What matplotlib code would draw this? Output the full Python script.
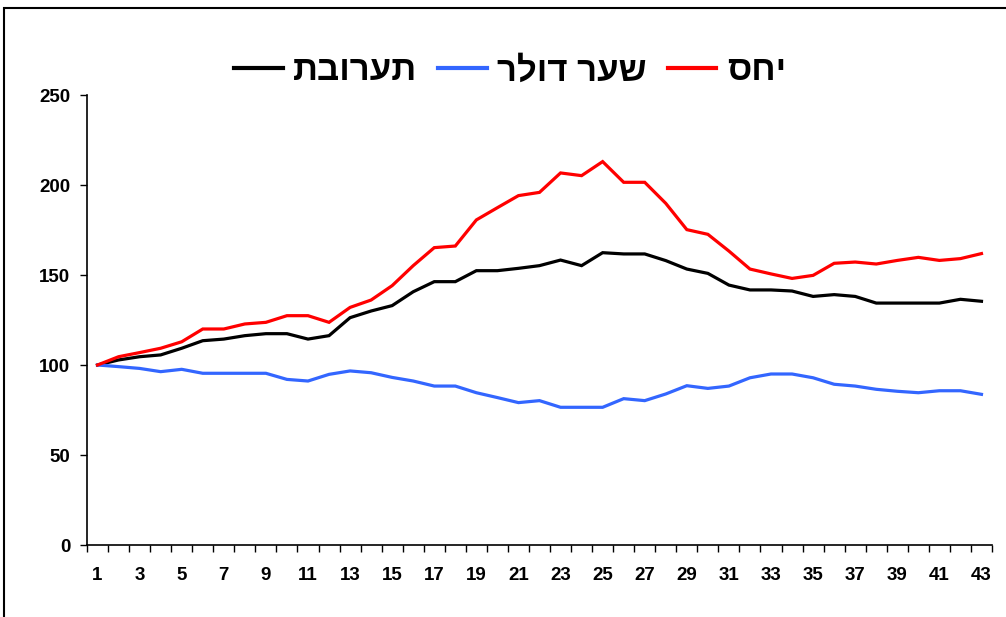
import matplotlib
matplotlib.use('Agg')
import matplotlib.pyplot as plt
from matplotlib.patches import Rectangle
import numpy as np

plt.rcParams['font.family'] = ['Liberation Sans', 'DejaVu Sans']

# index values, period 1 = 100
periods = list(range(1, 44))
mix = [100, 102.8, 104.6, 105.6, 109.3, 113.5, 114.4, 116.3, 117.4, 117.4,
       114.4, 116.3, 126.3, 130, 133, 140.7, 146.3, 146.3, 152.4, 152.4,
       153.7, 155.2, 158.3, 155.2, 162.4, 161.7, 161.7, 158, 153.3, 150.9,
       144.4, 141.7, 141.7, 141.1, 138.1, 139.1, 138.1, 134.4, 134.4, 134.4,
       134.4, 136.5, 135.4]
dollar = [100, 99.1, 98.1, 96.3, 97.6, 95.4, 95.4, 95.4, 95.4, 92.0,
          91.1, 94.8, 96.7, 95.7, 93.1, 91.1, 88.3, 88.3, 84.6, 81.9,
          79.1, 80.2, 76.5, 76.5, 76.5, 81.3, 80.2, 83.9, 88.5, 87.0,
          88.3, 92.9, 95, 95, 92.9, 89.3, 88.3, 86.5, 85.4, 84.6,
          85.7, 85.7, 83.7]
ratio = [100, 104.6, 106.9, 109.3, 112.9, 120, 120, 122.8, 123.7, 127.4,
         127.4, 123.7, 132, 136.1, 144.1, 155.2, 165.2, 166.1, 180.6, 187.4,
         194.1, 195.9, 206.7, 205.2, 213, 201.5, 201.5, 189.8, 175.2, 172.6,
         163.3, 153.3, 150.6, 148.1, 149.8, 156.5, 157.2, 156.1, 158.1, 159.8,
         158.1, 159.1, 161.9]

names = ['תערובת', 'שער דולר', 'יחס']
colors = ['black', '#3366ff', '#ff0000']
yticks = [0, 50, 100, 150, 200, 250]

# matplotlib has no bidi support, so hebrew is drawn reversed
def rtl(s):
    return s[::-1]

fig = plt.figure(figsize=(10.06, 6.17), dpi=100)
ax = fig.add_axes([87/1006, 72/617, 905/1006, 450/617])

for vals, name, c in zip([mix, dollar, ratio], names, colors):
    ax.plot(periods, vals, color=c, lw=2.3, label=rtl(name), solid_joinstyle='miter')

ax.set_xlim(0.5, 43.5)
ax.set_ylim(0, 250)
ax.set_yticks(yticks)
ax.set_xticks(periods[::2])
ax.set_xticks(np.arange(0.5, 44, 1), minor=True)
ax.tick_params(axis='x', which='major', length=0, pad=16)
ax.tick_params(axis='x', which='minor', length=5, width=1, direction='out')
ax.tick_params(axis='y', length=5, width=1, direction='out', pad=7)
for lab in ax.get_xticklabels() + ax.get_yticklabels():
    lab.set_fontweight('bold')
    lab.set_fontsize(13.5)
for s in ['top', 'right']:
    ax.spines[s].set_visible(False)
for s in ['left', 'bottom']:
    ax.spines[s].set_linewidth(1.2)

leg = fig.legend(loc='center', bbox_to_anchor=(510/1006, 1 - 71/617), ncol=3,
                 frameon=False, prop={'weight': 'bold', 'size': 25},
                 handlelength=1.4, handletextpad=0.3, columnspacing=0.6)
for h in leg.get_lines():
    h.set_linewidth(3)

# outer frame, cut off on the right and bottom like the original
fig.patches.append(Rectangle((4/1006, -0.1), 1.2, 1 - 8/617 + 0.1, transform=fig.transFigure,
                             fill=False, lw=1.5, ec='black'))

fig.savefig('out.png', dpi=100)
